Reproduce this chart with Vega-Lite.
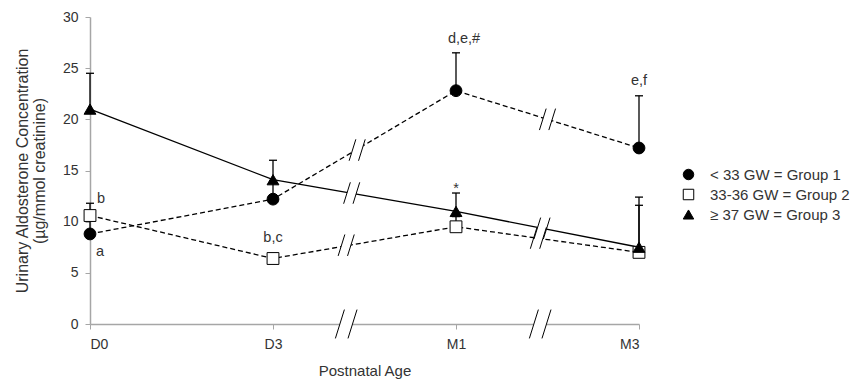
{
  "$schema": "https://vega.github.io/schema/vega-lite/v6.json",
  "autosize": "none",
  "padding": {"left": 90, "top": 17, "right": 218, "bottom": 60},
  "width": 549,
  "height": 307,
  "background": "white",
  "config": {
    "view": {"stroke": null},
    "font": "Liberation Sans",
    "axis": {
      "grid": false,
      "domainColor": "#a6a6a6",
      "domainWidth": 1.5,
      "tickColor": "#a6a6a6",
      "tickWidth": 1,
      "tickSize": 5,
      "labelColor": "#333333",
      "labelFontSize": 14,
      "labelFont": "Liberation Sans",
      "titleFont": "Liberation Sans",
      "titleColor": "#333333",
      "titleFontWeight": "normal"
    },
    "legend": {
      "labelFont": "Liberation Sans",
      "labelFontSize": 15,
      "labelColor": "#333333",
      "symbolStrokeWidth": 1,
      "symbolSize": 110,
      "rowPadding": 4,
      "labelOffset": 14,
      "padding": 0
    }
  },
  "datasets": {
    "obs": [
      {"group": "< 33 GW = Group 1", "age": "D0", "t": 0, "value": 8.8, "upper": 10.2, "note": "a"},
      {"group": "< 33 GW = Group 1", "age": "D3", "t": 1, "value": 12.2, "upper": 14.0, "note": ""},
      {"group": "< 33 GW = Group 1", "age": "M1", "t": 2, "value": 22.8, "upper": 26.5, "note": "d,e,#"},
      {"group": "< 33 GW = Group 1", "age": "M3", "t": 3, "value": 17.2, "upper": 22.3, "note": "e,f"},
      {"group": "33-36 GW = Group 2", "age": "D0", "t": 0, "value": 10.6, "upper": 11.8, "note": "b"},
      {"group": "33-36 GW = Group 2", "age": "D3", "t": 1, "value": 6.4, "upper": 6.9, "note": "b,c"},
      {"group": "33-36 GW = Group 2", "age": "M1", "t": 2, "value": 9.5, "upper": 10.5, "note": ""},
      {"group": "33-36 GW = Group 2", "age": "M3", "t": 3, "value": 7.0, "upper": 11.6, "note": ""},
      {"group": "≥ 37 GW = Group 3", "age": "D0", "t": 0, "value": 21.0, "upper": 24.5, "note": ""},
      {"group": "≥ 37 GW = Group 3", "age": "D3", "t": 1, "value": 14.1, "upper": 16.0, "note": ""},
      {"group": "≥ 37 GW = Group 3", "age": "M1", "t": 2, "value": 11.0, "upper": 12.8, "note": "*"},
      {"group": "≥ 37 GW = Group 3", "age": "M3", "t": 3, "value": 7.5, "upper": 12.4, "note": ""}
    ],
    "breaks": [
      {"kind": "axis", "t": 1.40, "y": 0},
      {"kind": "axis", "t": 2.46, "y": 0},
      {"kind": "line", "t": 1.46, "y": 17.0},
      {"kind": "line", "t": 2.50, "y": 20.0},
      {"kind": "line", "t": 1.43, "y": 12.8},
      {"kind": "line", "t": 2.47, "y": 9.35},
      {"kind": "line", "t": 1.40, "y": 7.7},
      {"kind": "line", "t": 2.45, "y": 8.4}
    ]
  },
  "layer": [
    {
      "data": {"name": "obs"},
      "mark": {"type": "rule", "color": "black", "strokeWidth": 1.3},
      "encoding": {
        "x": {
          "field": "t", "type": "quantitative",
          "scale": {"domain": [0, 3], "nice": false, "zero": false},
          "axis": {
            "title": "Postnatal Age",
            "titleFontSize": 15,
            "titlePadding": 12,
            "labelPadding": 8,
            "values": [0, 1, 2, 3],
            "labelExpr": "['D0','D3','M1','M3'][datum.value]"
          }
        },
        "y": {
          "field": "value", "type": "quantitative",
          "scale": {"domain": [0, 30], "nice": false},
          "axis": {
            "title": ["Urinary Aldosterone  Concentration", "(µg/mmol creatinine)"],
            "titleFontSize": 16,
            "titleLineHeight": 17,
            "titlePadding": 15,
            "labelPadding": 7,
            "values": [0, 5, 10, 15, 20, 25, 30]
          }
        },
        "y2": {"field": "upper"}
      }
    },
    {
      "data": {"name": "obs"},
      "mark": {"type": "point", "shape": "M -1 0 L 1 0", "size": 64, "filled": false, "color": "black", "strokeWidth": 1.3, "opacity": 1},
      "encoding": {
        "x": {"field": "t", "type": "quantitative"},
        "y": {"field": "upper", "type": "quantitative"}
      }
    },
    {
      "data": {"name": "obs"},
      "transform": [{"filter": "datum.group !== '≥ 37 GW = Group 3'"}],
      "mark": {"type": "line", "color": "black", "strokeWidth": 1.3, "strokeDash": [5, 3]},
      "encoding": {
        "x": {"field": "t", "type": "quantitative"},
        "y": {"field": "value", "type": "quantitative"},
        "detail": {"field": "group"},
        "order": {"field": "t"}
      }
    },
    {
      "data": {"name": "obs"},
      "transform": [{"filter": "datum.group === '≥ 37 GW = Group 3'"}],
      "mark": {"type": "line", "color": "black", "strokeWidth": 1.3},
      "encoding": {
        "x": {"field": "t", "type": "quantitative"},
        "y": {"field": "value", "type": "quantitative"},
        "order": {"field": "t"}
      }
    },
    {
      "data": {"name": "breaks"},
      "mark": {"type": "point", "shape": "M -0.6 0.8 L -0.1 -0.8 L 0.6 -0.8 L 0.1 0.8 Z", "filled": true, "fill": "white", "strokeWidth": 0, "opacity": 1},
      "encoding": {
        "x": {"field": "t", "type": "quantitative"},
        "y": {"field": "y", "type": "quantitative"},
        "size": {"field": "kind", "type": "nominal", "scale": {"domain": ["axis", "line"], "range": [1300, 720]}, "legend": null}
      }
    },
    {
      "data": {"name": "breaks"},
      "mark": {"type": "point", "shape": "M -0.6 0.8 L -0.1 -0.8 M 0.1 0.8 L 0.6 -0.8", "filled": false, "color": "black", "strokeWidth": 1, "opacity": 1},
      "encoding": {
        "x": {"field": "t", "type": "quantitative"},
        "y": {"field": "y", "type": "quantitative"},
        "size": {"field": "kind", "type": "nominal", "scale": {"domain": ["axis", "line"], "range": [1300, 720]}, "legend": null}
      }
    },
    {
      "data": {"name": "obs"},
      "mark": {"type": "point", "filled": true, "strokeWidth": 1, "size": 140, "opacity": 1},
      "encoding": {
        "x": {"field": "t", "type": "quantitative"},
        "y": {"field": "value", "type": "quantitative"},
        "shape": {
          "field": "group", "type": "nominal",
          "scale": {"domain": ["< 33 GW = Group 1", "33-36 GW = Group 2", "≥ 37 GW = Group 3"], "range": ["circle", "square", "triangle-up"]},
          "legend": {"orient": "none", "legendX": 591, "legendY": 150, "title": null}
        },
        "fill": {
          "field": "group", "type": "nominal",
          "scale": {"domain": ["< 33 GW = Group 1", "33-36 GW = Group 2", "≥ 37 GW = Group 3"], "range": ["black", "white", "black"]},
          "legend": {"orient": "none", "legendX": 591, "legendY": 150, "title": null}
        },
        "stroke": {
          "field": "group", "type": "nominal",
          "scale": {"domain": ["< 33 GW = Group 1", "33-36 GW = Group 2", "≥ 37 GW = Group 3"], "range": ["black", "black", "black"]},
          "legend": {"orient": "none", "legendX": 591, "legendY": 150, "title": null}
        }
      }
    },
    {
      "data": {"name": "obs"},
      "transform": [{"filter": "datum.note === 'b,c' || datum.note === 'e,f'"}],
      "mark": {"type": "text", "fontSize": 14.5, "color": "#333333", "align": "center", "baseline": "alphabetic", "dy": -11},
      "encoding": {
        "x": {"field": "t", "type": "quantitative"},
        "y": {"field": "upper", "type": "quantitative"},
        "text": {"field": "note"}
      }
    },
    {
      "data": {"name": "obs"},
      "transform": [{"filter": "datum.note === 'd,e,#'"}],
      "mark": {"type": "text", "fontSize": 14.5, "color": "#333333", "align": "center", "baseline": "alphabetic", "dx": 8, "dy": -10},
      "encoding": {
        "x": {"field": "t", "type": "quantitative"},
        "y": {"field": "upper", "type": "quantitative"},
        "text": {"field": "note"}
      }
    },
    {
      "data": {"name": "obs"},
      "transform": [{"filter": "datum.note === '*'"}],
      "mark": {"type": "text", "fontSize": 14.5, "color": "#333333", "align": "center", "baseline": "alphabetic", "dy": 0},
      "encoding": {
        "x": {"field": "t", "type": "quantitative"},
        "y": {"field": "upper", "type": "quantitative"},
        "text": {"field": "note"}
      }
    },
    {
      "data": {"name": "obs"},
      "transform": [{"filter": "datum.note === 'a'"}],
      "mark": {"type": "text", "fontSize": 14.5, "color": "#333333", "align": "center", "baseline": "alphabetic", "dx": 10, "dy": 22},
      "encoding": {
        "x": {"field": "t", "type": "quantitative"},
        "y": {"field": "value", "type": "quantitative"},
        "text": {"field": "note"}
      }
    },
    {
      "data": {"name": "obs"},
      "transform": [{"filter": "datum.note === 'b'"}],
      "mark": {"type": "text", "fontSize": 14.5, "color": "#333333", "align": "center", "baseline": "alphabetic", "dx": 11, "dy": 0},
      "encoding": {
        "x": {"field": "t", "type": "quantitative"},
        "y": {"field": "upper", "type": "quantitative"},
        "text": {"field": "note"}
      }
    }
  ]
}
